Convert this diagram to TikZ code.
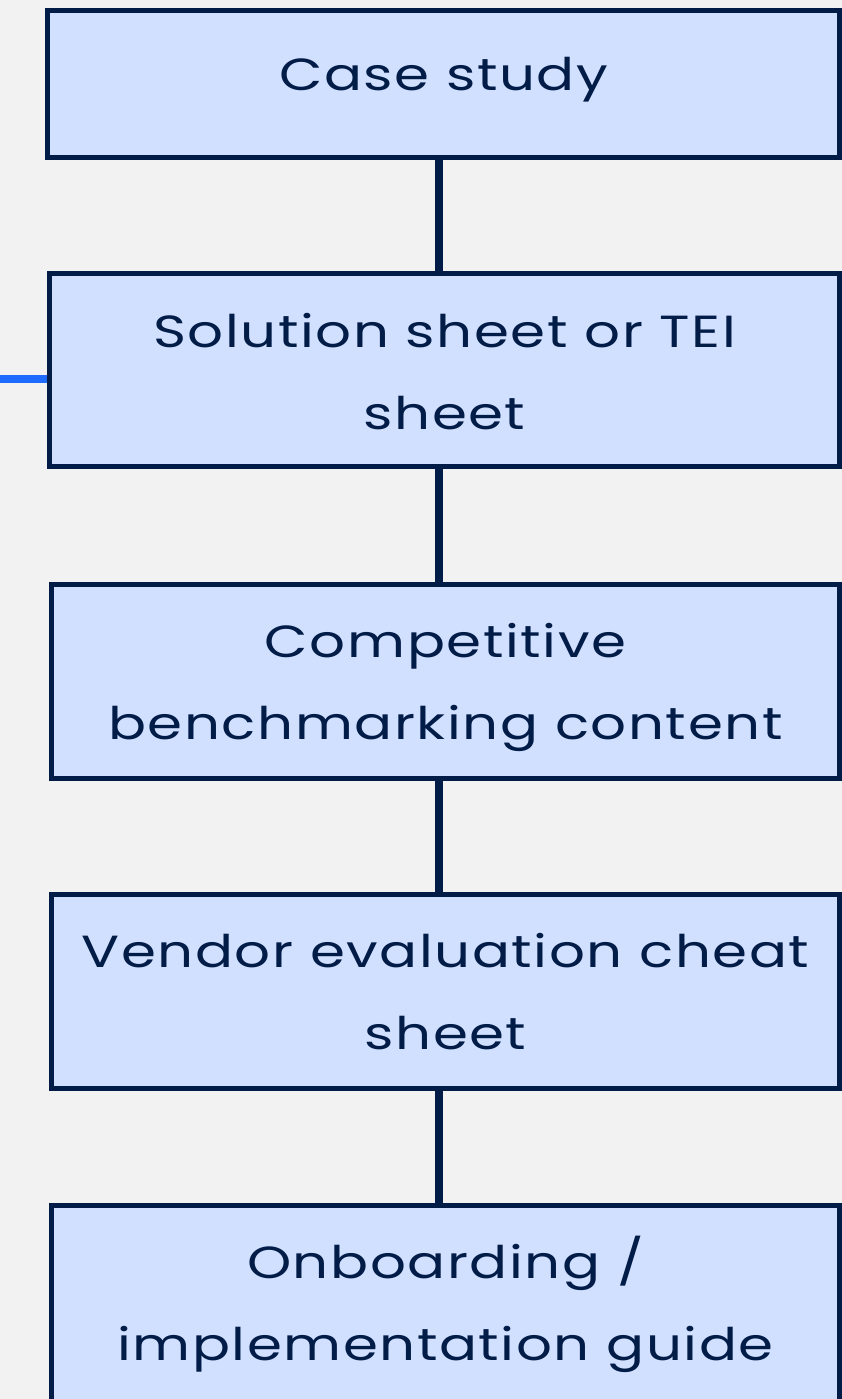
\documentclass[tikz,border=0pt]{standalone}
\usepackage{fontspec}
\setmainfont[FakeStretch=1.25,LetterSpace=3.5]{Poppins}
\definecolor{pagebg}{HTML}{F2F2F2}
\definecolor{boxfill}{HTML}{D2E0FF}
\definecolor{navy}{HTML}{021C48}
\definecolor{linkblue}{HTML}{1D6CFF}
\tikzset{
  stage/.style={draw=navy, line width=5pt, fill=boxfill, text=navy,
    align=center, inner sep=0pt, text depth=0pt,
    font=\fontsize{45}{82}\selectfont},
  conn/.style={draw=navy, line width=8pt},
  sidelink/.style={draw=linkblue, line width=8pt}
}
\begin{document}
\begin{tikzpicture}[x=1pt, y=-1pt]
  \fill[pagebg] (0,0) rectangle (842,1399);
  \useasboundingbox (0,0) rectangle (842,1399);
  \clip (0,0) rectangle (842,1399);

  % stages of the content path (text height sets the last baseline)
  \node[stage, minimum width=792pt, minimum height=147pt,
        text height=14pt] (s1) at (443.5,84) {Case study};
  \node[stage, minimum width=790pt, minimum height=193pt,
        text height=119pt] (s2) at (444.5,370) {Solution sheet or TEI\\sheet};
  \node[stage, minimum width=788pt, minimum height=194pt,
        text height=115pt] (s3) at (445.5,681.5) {Competitive\\benchmarking content};
  \node[stage, minimum width=788pt, minimum height=194pt,
        text height=117pt] (s4) at (445.5,991) {Vendor evaluation cheat\\sheet};
  \node[stage, minimum width=788pt, minimum height=198pt,
        text height=112pt] (s5) at (445.5,1304.5) {Onboarding /\\implementation guide};

  % vertical spine joining the stages
  \coordinate (spine) at (439,0);
  \draw[conn] (s1.south -| spine) -- (s2.north -| spine);
  \draw[conn] (s2.south -| spine) -- (s3.north -| spine);
  \draw[conn] (s3.south -| spine) -- (s4.north -| spine);
  \draw[conn] (s4.south -| spine) -- (s5.north -| spine);

  % incoming link on the left
  \coordinate (inlink) at (0,379);
  \draw[sidelink] (inlink) -- (inlink -| s2.west);
\end{tikzpicture}
\end{document}
